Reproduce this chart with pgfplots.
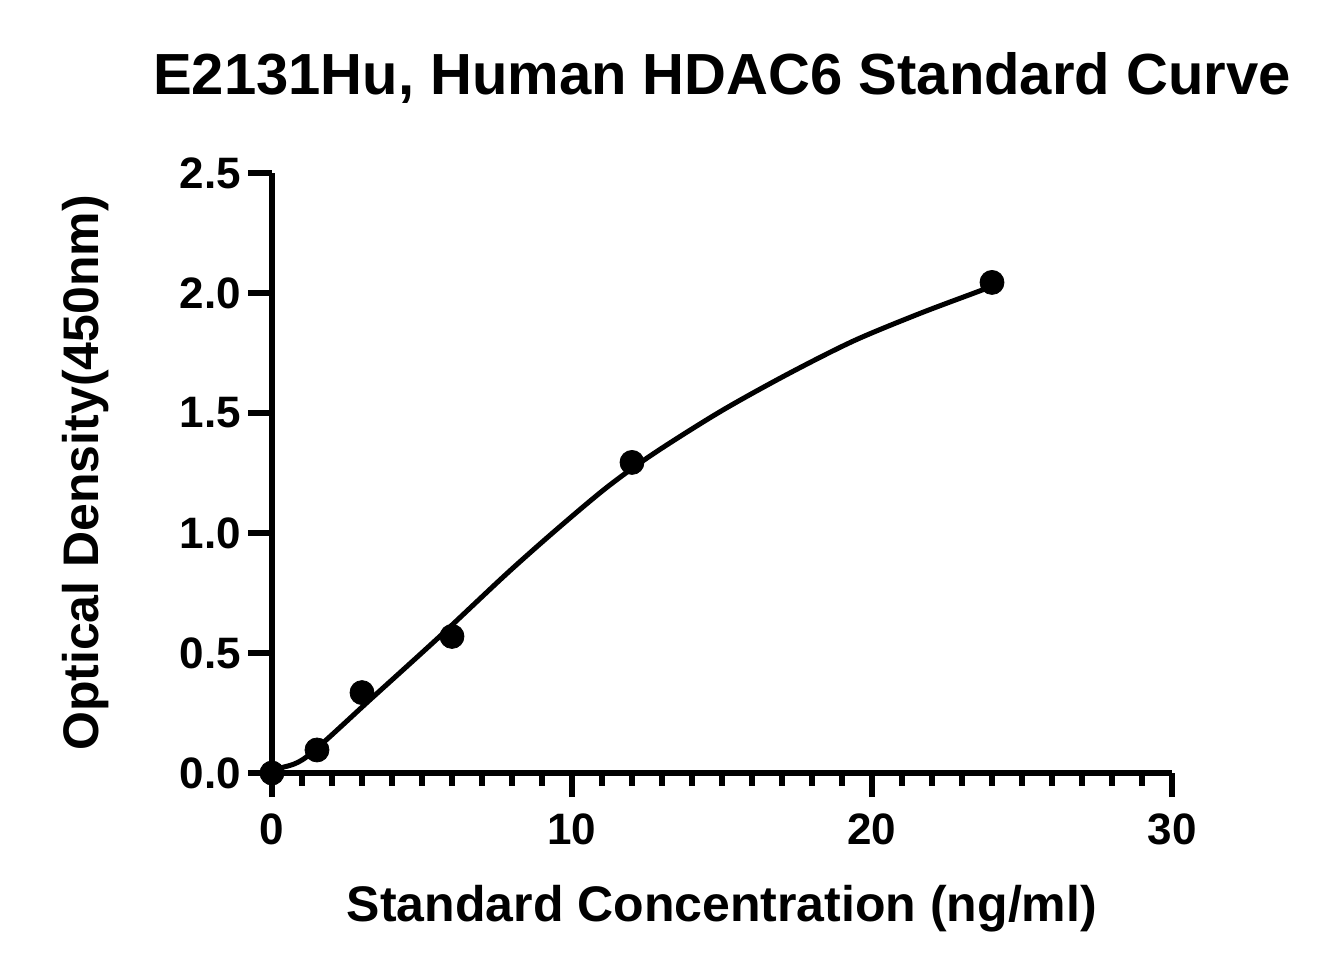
\documentclass[border=0pt]{standalone}
\usepackage{pgfplots}
\pgfplotsset{compat=1.18}
\usepackage{fontspec}
\setmainfont{Liberation Sans}

\begin{document}
\begin{tikzpicture}
% page frame: 1332x975 px at 0.5pt per px, axis origin at (272,773) px
\path[use as bounding box] (-136pt,-101pt) rectangle (530pt,386.5pt);
\begin{axis}[
    at={(0,0)}, anchor=south west,
    scale only axis,
    width=450pt, height=300pt,
    xmin=0, xmax=30, ymin=0, ymax=2.5,
    clip=false,
    axis lines=left,
    axis line style={-, line width=3pt, black},
    xtick={0,10,20,30},
    ytick={0,0.5,1,1.5,2,2.5},
    minor x tick num=9,
    tick align=outside,
    major tick length=12pt,
    minor tick length=6.5pt,
    every tick/.style={black, line width=3pt},
    /pgf/number format/assume math mode=true,
    yticklabel style={/pgf/number format/fixed, /pgf/number format/fixed zerofill, /pgf/number format/precision=1},
    xticklabel style={yshift=-5pt},
    ticklabel style={font=\fontsize{22}{26}\selectfont\bfseries},
    title={E2131Hu, Human HDAC6 Standard Curve},
    title style={at={(axis description cs:0.5,1.11)}, anchor=base, yshift=0pt, font=\fontsize{29}{35}\selectfont\bfseries},
    xlabel={Standard Concentration (ng/ml)},
    xlabel style={at={(axis description cs:0.5,-0.2483)}, anchor=base, font=\fontsize{25}{30}\selectfont\bfseries},
    ylabel={Optical Density(450nm)},
    ylabel style={at={(axis description cs:-0.1933,0.5)}, anchor=base, font=\fontsize{25}{30}\selectfont\bfseries},
]
% fitted curve
\addplot[black, line width=2.5pt, smooth, tension=0.5, no markers] coordinates {
    (0,0) (0.27,0.02) (1.16,0.068) (3.38,0.318) (5.6,0.57) (7.82,0.83)
    (9.49,1.015) (11.16,1.19) (12.71,1.33) (14.93,1.505) (17.16,1.66)
    (19.38,1.80) (21.6,1.915) (23.6,2.009) (24,2.03)
};
% standards
\addplot[only marks, mark=*, mark size=6pt, black] coordinates {
    (0,0) (1.5,0.096) (3,0.335) (6,0.569) (12,1.294) (24,2.044)
};
\end{axis}
\end{tikzpicture}
\end{document}
